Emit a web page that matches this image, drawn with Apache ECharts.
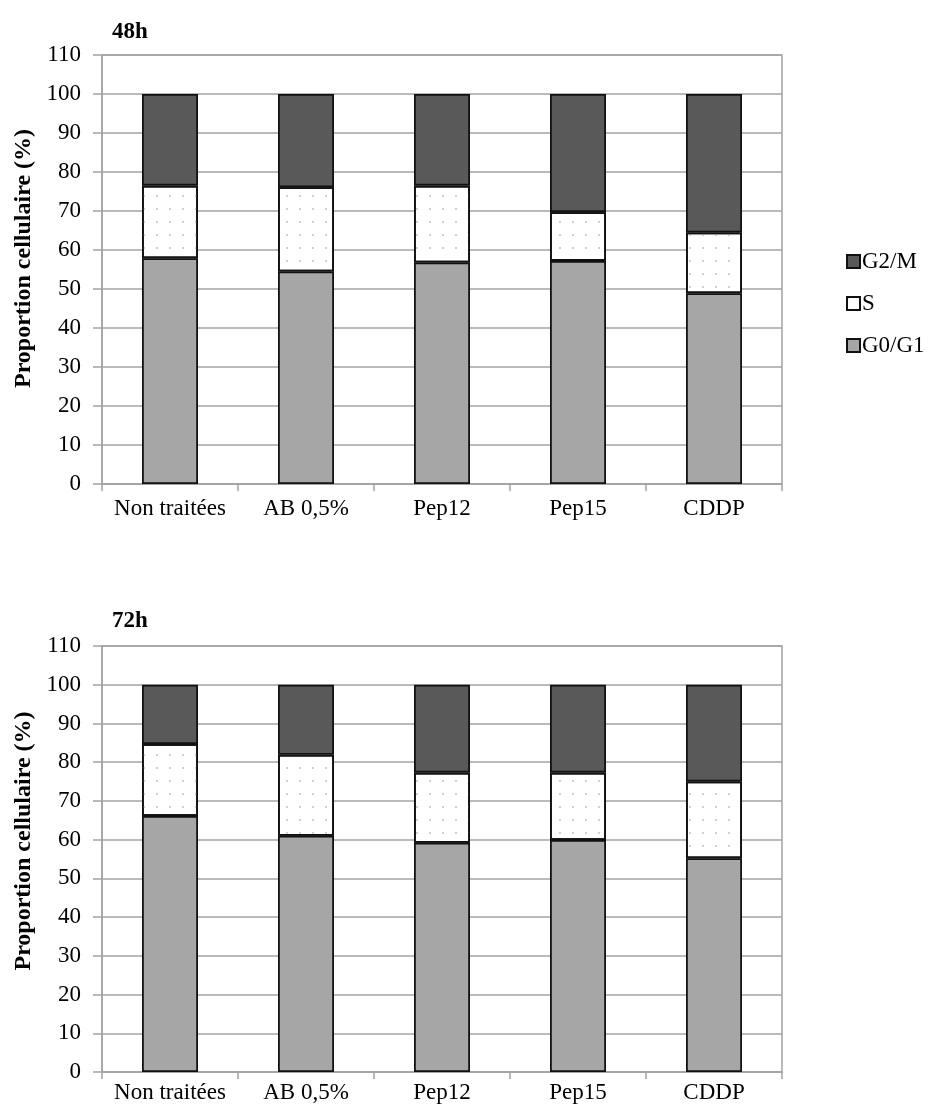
<!DOCTYPE html>
<html>
<head>
<meta charset="utf-8">
<script src="https://cdn.jsdelivr.net/npm/echarts@6/dist/echarts.min.js"></script>
<style>
html,body{margin:0;padding:0;background:#fff;}
#chart{width:932px;height:1115px;}
</style>
</head>
<body>
<div id="chart"></div>
<script>
const categories = ['Non traitées', 'AB 0,5%', 'Pep12', 'Pep15', 'CDDP'];
const yTicks = [0, 10, 20, 30, 40, 50, 60, 70, 80, 90, 100, 110];
const panelTitles = ['48h', '72h'];
const seriesNames = ['G0/G1', 'S', 'G2/M'];

// 48h
const g0g1_48 = [57.9, 54.5, 56.8, 57.2, 48.9];
const s_48    = [18.6, 21.6, 19.7, 12.5, 15.6];
const g2m_48  = [23.5, 23.9, 23.5, 30.3, 35.5];
// 72h
const g0g1_72 = [66.1, 61.0, 59.2, 59.9, 55.2];
const s_72    = [18.6, 20.9, 18.1, 17.4, 19.8];
const g2m_72  = [15.3, 18.1, 22.7, 22.7, 25.0];

const serif = '"Liberation Serif","DejaVu Serif",serif';
const gridColor = '#a3a3a3';
const colors = {'G0/G1': '#a6a6a6', 'S': '#ffffff', 'G2/M': '#595959'};

const grids = [
  {left: 102, right: 150, top: 55, height: 429},
  {left: 102, right: 150, top: 646, height: 426}
];
const xLabelMargin = [13, 9];
const nameShift = [22, 36];

function xAxis(i) {
  return {
    type: 'category', gridIndex: i, data: categories,
    axisLine: {lineStyle: {color: gridColor, width: 1.5}},
    axisTick: {show: true, length: 7, lineStyle: {color: gridColor, width: 1.5}},
    axisLabel: {color: '#000', fontFamily: serif, fontSize: 23, margin: xLabelMargin[i], interval: 0, hideOverlap: false}
  };
}
function yAxis(i) {
  return {
    type: 'value', gridIndex: i, min: yTicks[0], max: yTicks[yTicks.length - 1], interval: 10,
    name: 'Proportion cellulaire (%)', nameLocation: 'middle', nameGap: 66,
    nameTextStyle: {color: '#000', fontFamily: serif, fontSize: 24, fontWeight: 'bold',
      padding: [0, 0, 0, nameShift[i]]},
    axisLine: {show: true, lineStyle: {color: gridColor, width: 1.5}},
    axisTick: {show: true, length: 9, lineStyle: {color: gridColor, width: 1.5}},
    axisLabel: {color: '#000', fontFamily: serif, fontSize: 23, margin: 21},
    splitLine: {show: true, lineStyle: {color: gridColor, width: 1.5}}
  };
}

const dotDecal = {
  symbol: 'circle', symbolSize: 1, color: '#c0c0c0',
  dashArrayX: [2, 11], dashArrayY: [2, 11], rotation: 0
};

function bars(i, name, data) {
  const style = {color: colors[name], borderColor: '#111', borderWidth: 1.8};
  if (name === 'S') style.decal = dotDecal;
  return {
    type: 'bar', name: name, xAxisIndex: i, yAxisIndex: i, stack: 'st' + i,
    data: data, barWidth: 56, itemStyle: style,
    emphasis: {disabled: true}, animation: false
  };
}

const option = {
  animation: false,
  backgroundColor: '#fff',
  grid: grids.map(g => Object.assign({show: true, borderColor: gridColor, borderWidth: 1.5, backgroundColor: 'transparent'}, g)),
  title: [
    {text: panelTitles[0], left: 107, top: 16, textStyle: {fontFamily: serif, fontSize: 23, fontWeight: 'bold', color: '#000'}},
    {text: panelTitles[1], left: 107, top: 605, textStyle: {fontFamily: serif, fontSize: 23, fontWeight: 'bold', color: '#000'}}
  ],
  legend: {
    orient: 'vertical', left: 841, top: 245, itemGap: 19,
    itemWidth: 13, itemHeight: 13, icon: 'rect',
    data: ['G2/M', 'S', 'G0/G1'],
    textStyle: {fontFamily: serif, fontSize: 23, color: '#000', padding: [0, 0, 0, -3]}
  },
  xAxis: [xAxis(0), xAxis(1)],
  yAxis: [yAxis(0), yAxis(1)],
  series: [
    bars(0, 'G0/G1', g0g1_48), bars(0, 'S', s_48), bars(0, 'G2/M', g2m_48),
    bars(1, 'G0/G1', g0g1_72), bars(1, 'S', s_72), bars(1, 'G2/M', g2m_72)
  ]
};

const chart = echarts.init(document.getElementById('chart'), null, {renderer: 'canvas'});
chart.setOption(option);
</script>
</body>
</html>
